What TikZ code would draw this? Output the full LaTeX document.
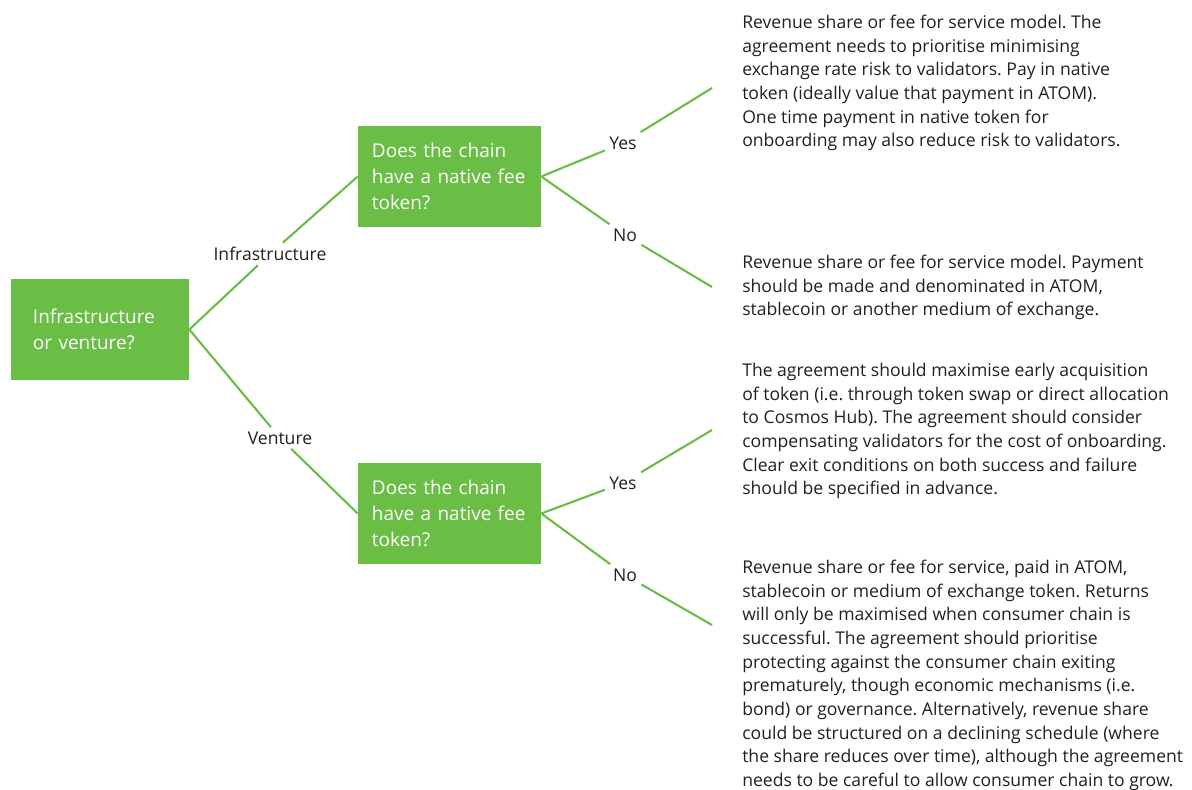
\documentclass[tikz,border=0pt]{standalone}
\usepackage{fontspec}
\setmainfont{Open Sans}
\frenchspacing
\usetikzlibrary{positioning}
\definecolor{leafgreen}{HTML}{6ABD45}
\definecolor{inkgrey}{HTML}{231F20}

\begin{document}
\begin{tikzpicture}[x=0.025cm, y=-0.025cm,
    decision/.style={rectangle, fill=leafgreen, text=white, align=left, minimum height=2.525cm, font=\fontsize{13.5}{18.5}\selectfont},
    answer/.style={anchor=north west, inner sep=0pt, align=left, text=inkgrey, font=\fontsize{12.5}{16.8}\selectfont},
    branch/.style={inner sep=3pt, text=inkgrey, font=\fontsize{12.5}{16.8}\selectfont},
    link/.style={draw=leafgreen, line width=1.5pt}]
    \useasboundingbox (0,0) rectangle (1192,790);

    % Nodes
    \node (root) [decision, text width=3.35cm, inner xsep=0.55cm] at (100,329.5) {Infrastructure\\or venture?};
    \node (q1) [decision, text width=3.875cm, inner xsep=0.35cm] at (449.5,176.5) {Does the chain\\have a native fee\\token?};
    \node (q2) [decision, text width=3.875cm, inner xsep=0.35cm] at (449.5,513.5) {Does the chain\\have a native fee\\token?};

    \node (infra) [branch] at (270,254) {Infrastructure};
    \node (venture) [branch] at (280,438) {Venture};
    \node (yes1) [branch] at (623,143) {Yes};
    \node (no1) [branch] at (625,235) {No};
    \node (yes2) [branch] at (623,483) {Yes};
    \node (no2) [branch] at (625,575) {No};

    \coordinate (tip1) at (712,88);
    \coordinate (tip2) at (712,287);
    \coordinate (tip3) at (712,430);
    \coordinate (tip4) at (712,625);

    \node (a1) [answer] at (742,15) {Revenue share or fee for service model. The\\agreement needs to prioritise minimising\\exchange rate risk to validators. Pay in native\\token (ideally value that payment in ATOM).\\One time payment in native token for\\onboarding may also reduce risk to validators.};
    \node (a2) [answer] at (742,255) {Revenue share or fee for service model. Payment\\should be made and denominated in ATOM,\\stablecoin or another medium of exchange.};
    \node (a3) [answer] at (742,363) {The agreement should maximise early acquisition\\of token (i.e. through token swap or direct allocation\\to Cosmos Hub). The agreement should consider\\compensating validators for the cost of onboarding.\\Clear exit conditions on both success and failure\\should be specified in advance.};
    \node (a4) [answer] at (742,560) {Revenue share or fee for service, paid in ATOM,\\stablecoin or medium of exchange token. Returns\\will only be maximised when consumer chain is\\successful. The agreement should prioritise\\protecting against the consumer chain exiting\\prematurely, though economic mechanisms (i.e.\\bond) or governance. Alternatively, revenue share\\could be structured on a declining schedule (where\\the share reduces over time), although the agreement\\needs to be careful to allow consumer chain to grow.};

    % Lines
    \draw[link] (root.east) -- (infra) -- (q1.west);
    \draw[link] (root.east) -- (venture) -- (q2.west);
    \draw[link] (q1.east) -- (yes1) -- (tip1);
    \draw[link] (q1.east) -- (no1) -- (tip2);
    \draw[link] (q2.east) -- (yes2) -- (tip3);
    \draw[link] (q2.east) -- (no2) -- (tip4);
\end{tikzpicture}
\end{document}
